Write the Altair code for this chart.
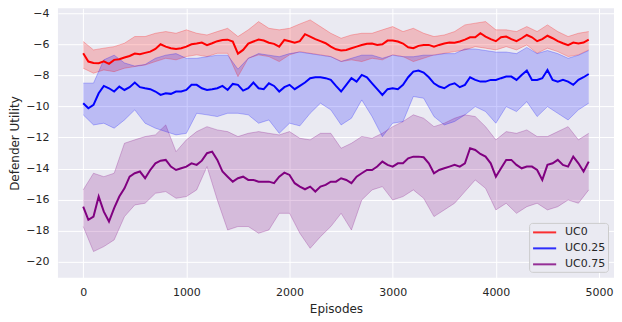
import altair as alt
import pandas as pd

# band episodes (every 100) and mean-line episodes (every 50)
episodes = list(range(0, 5000, 100))
episodes_fine = list(range(0, 4950, 50))
series_names = ["UC0", "UC0.25", "UC0.75"]
series_colors = ["#FF0000", "#0000FF", "#800080"]

uc0_mean = [-6.58, -7.11, -7.2, -7.22, -7.1, -7.26, -7.0, -6.96, -6.85, -6.75,
            -6.6, -6.64, -6.55, -6.47, -6.3, -6.0, -6.15, -6.25, -6.3, -6.25,
            -6.15, -6.0, -5.95, -5.89, -6.05, -5.93, -5.8, -5.72, -5.7, -5.82,
            -6.6, -6.36, -5.95, -5.82, -5.7, -5.76, -5.9, -5.97, -6.15, -5.72,
            -5.8, -5.89, -5.8, -5.35, -5.5, -5.67, -5.8, -5.93, -6.15, -6.32,
            -6.4, -6.36, -6.25, -6.15, -6.05, -5.97, -5.95, -6.04, -6.0, -5.76,
            -5.75, -5.82, -5.95, -6.19, -6.25, -6.1, -6.05, -6.04, -6.15, -6.04,
            -5.95, -5.89, -5.9, -5.82, -5.7, -5.55, -5.55, -5.29, -5.5, -5.67,
            -5.8, -5.55, -5.5, -5.67, -5.8, -5.61, -5.4, -5.55, -5.8, -5.67,
            -5.45, -5.61, -5.8, -5.93, -6.05, -5.89, -5.95, -5.89, -5.7]
uc0_upper = [-5.82, -6.36, -6.25, -6.15, -5.93, -5.5, -5.5, -5.29, -5.18, -5.29,
             -5.07, -5.29, -5.4, -5.18, -4.97, -5.5, -5.07, -4.54, -4.97, -5.07,
             -4.97, -4.69, -4.43, -4.86, -5.29, -5.61, -5.4, -5.29, -5.29, -5.07,
             -4.86, -5.18, -4.97, -5.29, -5.5, -5.4, -5.18, -4.75, -4.64, -4.54,
             -5.07, -5.07, -5.18, -4.86, -5.18, -4.75, -5.18, -5.5, -5.29, -5.18]
uc0_lower = [-7.54, -7.86, -7.65, -7.76, -7.54, -7.43, -7.33, -7.11, -6.9, -7.0,
             -6.79, -6.68, -6.79, -6.58, -6.58, -8.08, -6.9, -6.68, -6.79, -7.11,
             -6.68, -6.47, -6.58, -6.68, -6.79, -7.11, -7.0, -7.11, -6.9, -7.0,
             -6.68, -6.79, -7.11, -6.9, -6.68, -6.58, -6.47, -6.36, -6.15, -6.25,
             -6.36, -6.15, -6.36, -6.04, -6.58, -6.25, -6.47, -6.79, -6.68, -6.36]

uc025_mean = [-9.79, -10.12, -9.9, -9.15, -8.68, -8.83, -9.04, -8.72, -8.94, -8.76,
              -8.46, -8.76, -8.83, -8.89, -9.04, -9.26, -9.15, -9.19, -9.04, -9.04,
              -8.94, -8.61, -8.61, -8.83, -8.94, -8.89, -8.83, -8.68, -8.94, -8.55,
              -8.61, -8.98, -8.83, -8.46, -8.83, -8.89, -8.51, -8.68, -9.04, -8.76,
              -8.61, -8.89, -8.68, -8.46, -8.18, -8.12, -8.12, -8.18, -8.29, -8.68,
              -9.04, -8.61, -8.18, -8.4, -7.97, -8.12, -8.51, -8.89, -9.26, -8.89,
              -8.83, -8.89, -8.61, -8.12, -7.76, -7.69, -7.82, -8.12, -8.51, -8.72,
              -8.83, -8.61, -8.51, -8.76, -8.61, -8.12, -8.29, -8.4, -8.4, -8.29,
              -8.29, -8.18, -8.08, -8.08, -8.29, -7.97, -7.69, -8.29, -8.29, -8.18,
              -7.65, -8.29, -8.4, -8.29, -8.4, -8.61, -8.29, -8.12, -7.91]
uc025_upper = [-8.5, -8.5, -7.0, -6.7, -7.2, -7.4, -7.3, -6.9, -6.7, -6.6,
               -6.9, -6.9, -6.8, -6.7, -6.7, -7.6, -6.9, -6.6, -6.7, -6.8,
               -6.6, -6.5, -6.6, -6.7, -6.8, -7.1, -6.9, -6.7, -6.7, -6.9,
               -6.7, -6.8, -6.8, -6.7, -6.7, -6.6, -6.6, -6.3, -6.3, -6.4,
               -6.5, -6.5, -6.6, -6.2, -6.6, -6.4, -6.6, -6.9, -6.7, -6.4]
uc025_lower = [-10.54, -11.19, -11.08, -11.4, -10.87, -10.22, -11.08, -11.4, -11.62, -11.83,
               -11.73, -10.44, -10.54, -10.65, -10.44, -10.44, -10.54, -11.08, -10.87, -11.73,
               -11.08, -11.25, -10.44, -9.79, -10.22, -11.19, -10.76, -9.58, -10.65, -11.94,
               -11.08, -10.97, -9.36, -9.47, -10.65, -11.19, -10.97, -10.54, -10.01, -10.33,
               -11.08, -10.01, -10.33, -9.69, -10.65, -10.01, -10.44, -10.87, -10.22, -9.79]

uc075_mean = [-16.45, -17.3, -17.09, -15.8, -16.77, -17.41, -16.55, -15.8, -15.27, -14.52,
              -14.3, -14.19, -14.62, -14.09, -13.66, -13.49, -13.44, -13.87, -14.09, -13.98,
              -13.87, -13.66, -13.76, -13.49, -13.01, -12.91, -13.44, -14.19, -14.52, -14.84,
              -14.62, -14.52, -14.73, -14.73, -14.84, -14.84, -14.84, -14.94, -14.52, -14.26,
              -14.41, -14.94, -15.16, -15.33, -15.16, -15.48, -15.16, -15.05, -14.84, -14.84,
              -14.62, -14.73, -14.94, -14.52, -14.3, -14.09, -14.09, -13.87, -13.55, -13.76,
              -13.87, -13.66, -13.66, -13.34, -13.23, -13.23, -13.27, -13.66, -14.3, -14.09,
              -13.98, -13.87, -13.76, -13.87, -13.66, -12.69, -12.8, -13.06, -13.23, -13.66,
              -14.52, -13.98, -13.44, -13.44, -13.76, -13.98, -13.87, -13.87, -14.09, -14.73,
              -13.76, -13.66, -13.44, -13.76, -13.87, -13.23, -13.66, -14.19, -13.55]
uc075_upper = [-15.37, -14.3, -14.52, -14.3, -12.37, -12.15, -11.94, -11.83, -11.19, -12.91,
               -12.15, -11.62, -11.3, -11.51, -11.62, -11.94, -11.73, -11.62, -11.73, -11.83,
               -11.62, -12.05, -12.15, -11.73, -11.73, -12.69, -12.37, -11.94, -12.05, -11.73,
               -11.3, -10.97, -10.54, -10.76, -11.3, -11.08, -10.76, -10.54, -10.65, -11.3,
               -12.15, -11.62, -11.73, -11.51, -11.94, -11.94, -11.62, -11.3, -12.15, -11.73]
uc075_lower = [-17.73, -19.34, -19.02, -18.59, -17.09, -16.34, -16.23, -15.59, -15.48, -15.91,
               -15.8, -15.37, -13.87, -16.02, -17.95, -17.73, -17.73, -18.16, -17.95, -16.88,
               -16.88, -18.16, -19.13, -18.38, -17.73, -16.88, -17.95, -16.02, -15.37, -15.16,
               -16.02, -15.8, -15.37, -15.91, -17.09, -16.66, -16.23, -15.48, -14.73, -15.27,
               -16.66, -16.23, -16.88, -16.45, -16.23, -16.66, -16.45, -16.02, -16.23, -15.37]

x_ticks = [0, 1000, 2000, 3000, 4000, 5000]
y_ticks = [-20, -18, -16, -14, -12, -10, -8, -6, -4]

band_rows, mean_rows = [], []
for name, m, u, l in [("UC0", uc0_mean, uc0_upper, uc0_lower),
                      ("UC0.25", uc025_mean, uc025_upper, uc025_lower),
                      ("UC0.75", uc075_mean, uc075_upper, uc075_lower)]:
    for e, uv, lv in zip(episodes, u, l):
        band_rows.append({"episode": e, "series": name, "upper": uv, "lower": lv})
    for e, mv in zip(episodes_fine, m):
        mean_rows.append({"episode": e, "series": name, "mean": mv})
band_df = pd.DataFrame(band_rows)
mean_df = pd.DataFrame(mean_rows)

FONT = "DejaVu Sans"
color_scale = alt.Scale(domain=series_names, range=series_colors)
x_enc = alt.X("episode:Q", scale=alt.Scale(domain=[-245, 5145], nice=False, zero=False),
              axis=alt.Axis(values=x_ticks, title="Episodes", format="d", titlePadding=6))
y_scale = alt.Scale(domain=[-21.03, -3.68], nice=False, zero=False)
y_axis = alt.Axis(values=y_ticks, title="Defender Utility", titlePadding=4)


def yenc(field):
    return alt.Y(field, type="quantitative", scale=y_scale, axis=y_axis)


band = alt.Chart(band_df).mark_area(opacity=0.2).encode(
    x=x_enc,
    y=yenc("lower"),
    y2="upper:Q",
    color=alt.Color("series:N", scale=color_scale, legend=None),
    detail="series:N",
)
edge_lo = alt.Chart(band_df).mark_line(opacity=0.25, strokeWidth=1).encode(
    x=x_enc, y=yenc("lower"),
    color=alt.Color("series:N", scale=color_scale, legend=None),
)
edge_hi = alt.Chart(band_df).mark_line(opacity=0.25, strokeWidth=1).encode(
    x=x_enc, y=yenc("upper"),
    color=alt.Color("series:N", scale=color_scale, legend=None),
)
mean_line = alt.Chart(mean_df).mark_line(strokeWidth=2).encode(
    x=x_enc, y=yenc("mean"),
    color=alt.Color("series:N", scale=color_scale,
                    legend=alt.Legend(title=None, orient="bottom-right",
                                      symbolType="M-1.78,0L1.78,0",
                                      symbolStrokeWidth=2, symbolSize=169, symbolOpacity=0.8,
                                      symbolOffset=6, labelOffset=13,
                                      labelFontSize=11, labelFont=FONT, labelColor="#262626",
                                      fillColor="#EAEAF2", strokeColor="#CCCCCC",
                                      cornerRadius=3, padding=2, offset=6, rowPadding=3)),
)

chart = alt.layer(band, edge_lo, edge_hi, mean_line).resolve_legend(
    color="independent"
).properties(
    width=557, height=270,
    autosize=alt.AutoSizeParams(type="none"),
    padding={"left": 50, "top": 0, "right": 0, "bottom": 44},
    background="white",
).configure_view(
    fill="#EAEAF2", stroke=None,
).configure_axis(
    grid=True, gridColor="white", gridWidth=1, domain=False, ticks=False, tickSize=0,
    labelFont=FONT, labelFontSize=11, labelColor="#262626", labelPadding=9,
    labelOverlap=False,
    titleFont=FONT, titleFontSize=12, titleColor="#262626", titleFontWeight="normal",
)

chart.save("out.html", embed_options={"renderer": "svg", "actions": False})
